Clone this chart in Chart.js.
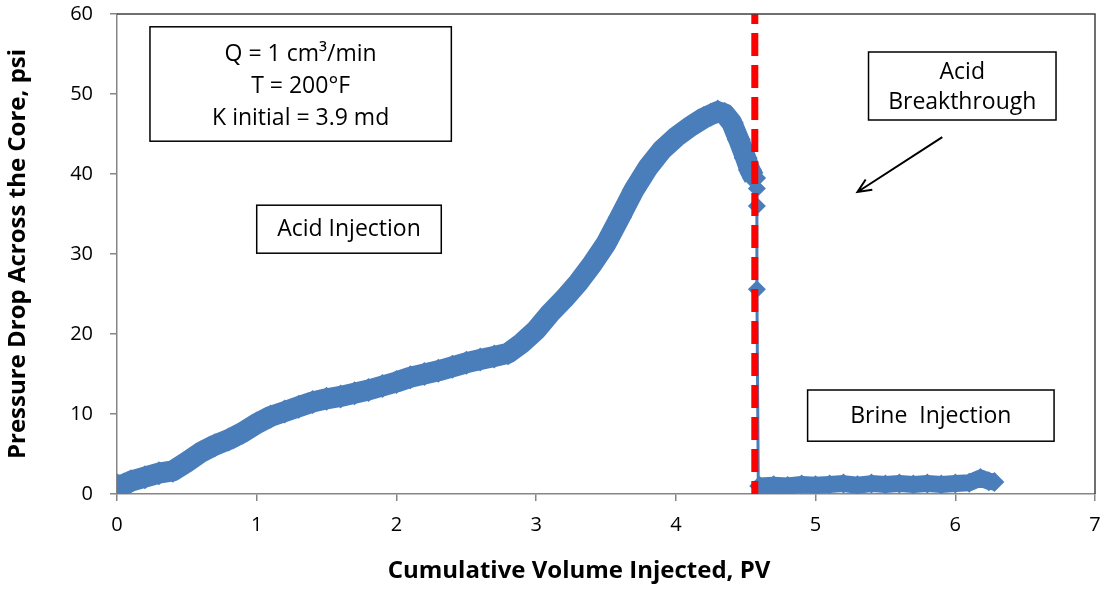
<!DOCTYPE html>
<html>
<head>
<meta charset="UTF-8">
<title>Pressure Drop Across the Core</title>
<script src="https://cdn.jsdelivr.net/npm/chart.js"></script>
<style>
body { margin: 0; background: #fff; }
#wrap { width: 1107px; height: 590px; position: relative; }
</style>
</head>
<body>
<div id="wrap"><canvas id="chart"></canvas></div>
<script>
// Acid injection stage (PV, psi)
const acidPV  = [0, 0.05, 0.1, 0.2, 0.3, 0.4, 0.5, 0.6, 0.7, 0.8, 0.9, 1.0, 1.1, 1.2, 1.3, 1.4, 1.5, 1.6, 1.7, 1.8, 1.9,
                 2.0, 2.1, 2.2, 2.3, 2.4, 2.5, 2.6, 2.7, 2.8, 2.9, 3.0, 3.1, 3.2, 3.3, 3.4, 3.5, 3.6, 3.7, 3.8, 3.9,
                 4.0, 4.1, 4.2, 4.25, 4.3, 4.35, 4.4, 4.45, 4.5, 4.53, 4.56];
const acidPsi = [1.1, 1.2, 1.6, 2.1, 2.6, 2.9, 4.0, 5.2, 6.1, 6.8, 7.7, 8.8, 9.7, 10.3, 10.9, 11.5, 11.9, 12.2, 12.6, 13.0, 13.5,
                 14.0, 14.6, 15.0, 15.4, 15.9, 16.4, 16.8, 17.2, 17.6, 18.9, 20.5, 22.6, 24.4, 26.4, 28.7, 31.3, 34.6, 38.0, 40.8, 43.0,
                 44.6, 45.9, 47.0, 47.4, 47.8, 47.5, 46.4, 44.3, 42.0, 40.5, 39.5];

// Breakthrough drop
const dropPV  = [4.58, 4.58, 4.58, 4.59];
const dropPsi = [38.2, 36.0, 25.6, 1.0];

// Brine injection stage
const brinePV  = [4.6, 4.7, 4.8, 4.9, 5.0, 5.1, 5.2, 5.3, 5.4, 5.5, 5.6, 5.7, 5.8, 5.9, 6.0, 6.1, 6.18, 6.24, 6.28];
const brinePsi = [1.0, 1.1, 1.0, 1.2, 1.1, 1.2, 1.3, 1.1, 1.3, 1.2, 1.3, 1.2, 1.3, 1.2, 1.3, 1.4, 2.0, 1.6, 1.5];

// Breakthrough marker line
const breakPV = 4.565;

// Axis ranges and titles
const xMin = 0, xMax = 7, xStep = 1;
const yMin = 0, yMax = 60, yStep = 10;
const xTitle = 'Cumulative Volume Injected, PV';
const yTitle = 'Pressure Drop Across the Core, psi';

// Text boxes (data units)
const boxes = [
    {x0: 0.236, x1: 2.393, y0: 58.4, y1: 44.1, lines: ['Q = 1 cm\u00b3/min', 'T = 200\u00b0F', 'K initial = 3.9 md'], ly: [55.0, 51.0, 46.9]},
    {x0: 1.0, x1: 2.321, y0: 36.1, y1: 30.1, lines: ['Acid Injection'], ly: [33.1]},
    {x0: 5.379, x1: 6.721, y0: 55.25, y1: 46.75, lines: ['Acid', 'Breakthrough'], ly: [52.75, 48.9]},
    {x0: 4.943, x1: 6.707, y0: 13.0, y1: 6.6, lines: ['Brine  Injection'], ly: [9.75]}
];
const arrow = {x0: 5.907, y0: 44.6, x1: 5.3, y1: 37.75};

const BLUE = '#4a7ebb';
const FONT = "'Open Sans', Lato, sans-serif";

const toPts = (xs, ys) => xs.map((x, i) => ({x, y: ys[i]}));

const notes = {
    id: 'notes',
    afterDraw(chart) {
        const {ctx, chartArea: a, scales: {x, y}} = chart;
        ctx.save();
        // plot frame, top and right
        ctx.strokeStyle = '#404040';
        ctx.lineWidth = 1.5;
        ctx.beginPath();
        ctx.moveTo(a.left, a.top);
        ctx.lineTo(a.right, a.top);
        ctx.lineTo(a.right, a.bottom);
        ctx.stroke();

        ctx.textAlign = 'center';
        ctx.textBaseline = 'middle';

        // x axis title, sits a bit left of the plot centre like the original
        ctx.fillStyle = '#000';
        ctx.font = 'bold 24px ' + FONT;
        ctx.fillText(xTitle, 579, 571);

        ctx.font = '23px ' + FONT;
        boxes.forEach((b) => {
            const l = x.getPixelForValue(b.x0), r = x.getPixelForValue(b.x1);
            const t = y.getPixelForValue(b.y0), btm = y.getPixelForValue(b.y1);
            ctx.fillStyle = '#fff';
            ctx.fillRect(l, t, r - l, btm - t);
            ctx.strokeStyle = '#000';
            ctx.lineWidth = 1.5;
            ctx.strokeRect(l, t, r - l, btm - t);
            ctx.fillStyle = '#000';
            b.lines.forEach((s, i) => ctx.fillText(s, (l + r) / 2, y.getPixelForValue(b.ly[i])));
        });

        // arrow
        const sx = x.getPixelForValue(arrow.x0), sy = y.getPixelForValue(arrow.y0);
        const ex = x.getPixelForValue(arrow.x1), ey = y.getPixelForValue(arrow.y1);
        const ang = Math.atan2(ey - sy, ex - sx);
        ctx.strokeStyle = '#000';
        ctx.lineWidth = 2;
        ctx.beginPath();
        ctx.moveTo(sx, sy);
        ctx.lineTo(ex, ey);
        ctx.moveTo(ex - 15 * Math.cos(ang - 0.42), ey - 15 * Math.sin(ang - 0.42));
        ctx.lineTo(ex, ey);
        ctx.lineTo(ex - 15 * Math.cos(ang + 0.42), ey - 15 * Math.sin(ang + 0.42));
        ctx.stroke();
        ctx.restore();
    }
};

const blueSeries = (pts, width, radius) => ({
    data: pts,
    showLine: true,
    borderColor: BLUE,
    borderWidth: width,
    borderJoinStyle: 'round',
    pointStyle: 'rectRot',
    pointRadius: radius,
    backgroundColor: BLUE,
    pointBorderWidth: 0
});

new Chart(document.getElementById('chart'), {
    type: 'scatter',
    data: {
        datasets: [
            {
                data: [{x: breakPV, y: yMax}, {x: breakPV, y: yMin}],
                showLine: true,
                borderColor: '#ff0000',
                borderWidth: 7,
                borderDash: [23, 9],
                borderDashOffset: 13,
                borderCapStyle: 'butt',
                pointRadius: 0
            },
            blueSeries(toPts(dropPV, dropPsi), 3, 9),
            blueSeries(toPts(acidPV, acidPsi), 21, 12),
            blueSeries(toPts(brinePV, brinePsi), 17, 10)
        ]
    },
    options: {
        responsive: true,
        maintainAspectRatio: false,
        animation: false,
        layout: {padding: {top: 14, right: 10, left: 0, bottom: 0}},
        plugins: {legend: {display: false}, tooltip: {enabled: false}},
        scales: {
            x: {
                type: 'linear',
                min: xMin,
                max: xMax,
                afterFit: (s) => { s.height = 96; s.paddingLeft = 0; s.paddingRight = 0; },
                ticks: {stepSize: xStep, color: '#000', padding: 12, font: {family: FONT, size: 20}},
                grid: {drawOnChartArea: false, color: '#868686', tickLength: 7, lineWidth: 1.5},
                border: {color: '#868686', width: 1.5}
            },
            y: {
                min: yMin,
                max: yMax,
                afterFit: (s) => { s.width = 117; s.paddingTop = 0; s.paddingBottom = 0; },
                ticks: {stepSize: yStep, color: '#000', padding: 17, font: {family: FONT, size: 20}},
                grid: {drawOnChartArea: false, color: '#868686', tickLength: 7, lineWidth: 1.5},
                border: {color: '#868686', width: 1.5},
                title: {display: true, text: yTitle, color: '#000',
                        font: {family: FONT, size: 24, weight: 'bold'}, padding: {top: 4, bottom: 0}}
            }
        }
    },
    plugins: [notes]
});
</script>
</body>
</html>
